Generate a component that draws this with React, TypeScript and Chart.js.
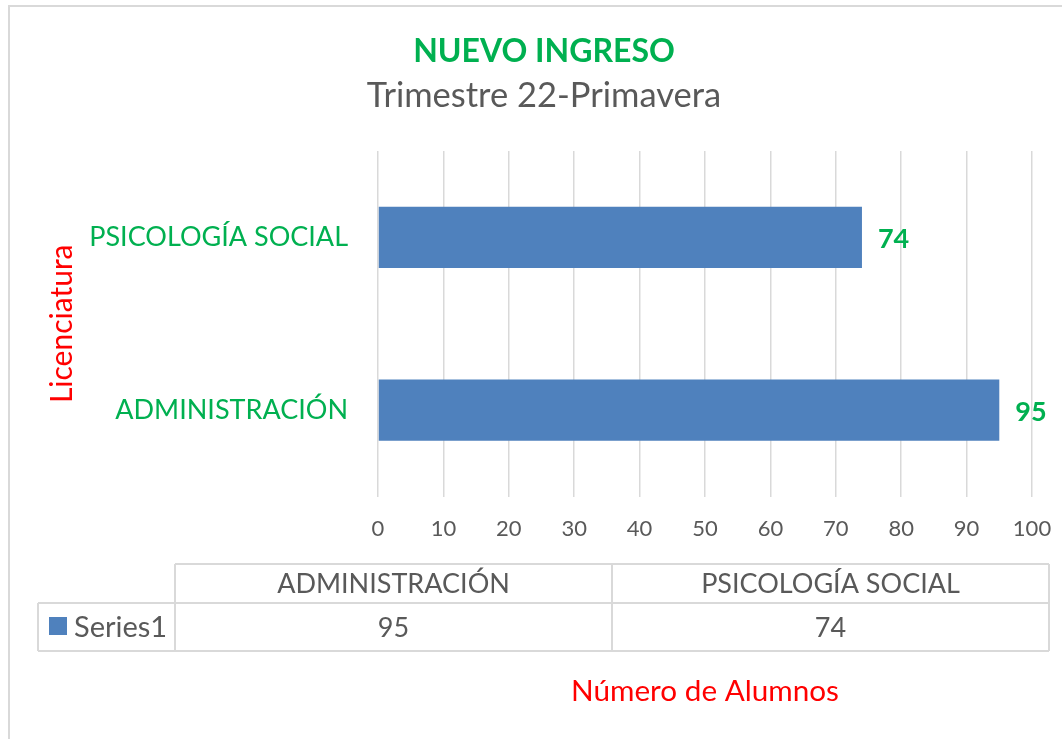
import { useEffect, useRef } from "react";
import { Chart, registerables } from "chart.js";

Chart.register(...registerables);

// ---- data ----
const categories = ["ADMINISTRACIÓN", "PSICOLOGÍA SOCIAL"];
const series1 = [95, 74];
const seriesName = "Series1";
const xMin = 0;
const xMax = 100;
const xStep = 10;
const chartTitle = "NUEVO INGRESO";
const chartSubtitle = "Trimestre 22-Primavera";
const xAxisTitle = "Número de Alumnos";
const yAxisTitle = "Licenciatura";

// ---- styles ----
const FONT = "Lato, 'Noto Sans', sans-serif";
const GREEN = "#00b050";
const GRAY = "#595959";
const RED = "#ff0000";
const BLUE = "#4f81bd";
const LINE = "#d9d9d9";

const W = 1062;
const H = 739;

// title geometry (the original chart frame is wider than the visible picture)
const TITLE_X = 544;
const TITLE_BASE = 62;
const SUBTITLE_BASE = 107;

// table geometry
const TBL = { left: 38, headLeft: 175, mid: 612, right: 1049, top: 564, split: 603, bottom: 651 };

const frame = {
  id: "frame",
  beforeDraw(chart: any) {
    const ctx = chart.ctx;
    ctx.save();
    ctx.fillStyle = "#ffffff";
    ctx.fillRect(0, 0, chart.width, chart.height);
    ctx.strokeStyle = LINE;
    ctx.lineWidth = 2;
    ctx.strokeRect(9, 6, chart.width + 20, chart.height + 20);
    // titles
    ctx.textAlign = "center";
    ctx.textBaseline = "alphabetic";
    ctx.fillStyle = GREEN;
    ctx.font = `bold 32px ${FONT}`;
    ctx.fillText(chartTitle, TITLE_X, TITLE_BASE);
    ctx.fillStyle = GRAY;
    ctx.font = `34.5px ${FONT}`;
    ctx.fillText(chartSubtitle, TITLE_X, SUBTITLE_BASE);
    ctx.restore();
  },
};

const valueLabels = {
  id: "valueLabels",
  afterDatasetsDraw(chart: any) {
    const ctx = chart.ctx;
    ctx.save();
    ctx.font = `bold 27px ${FONT}`;
    ctx.fillStyle = GREEN;
    ctx.textAlign = "left";
    ctx.textBaseline = "middle";
    const meta = chart.getDatasetMeta(0);
    meta.data.forEach((bar: any, i: number) => {
      ctx.fillText(String(series1[i]), bar.x + 16, bar.y + 2);
    });
    ctx.restore();
  },
};

const dataTable = {
  id: "dataTable",
  afterDraw(chart: any) {
    const ctx = chart.ctx;
    ctx.save();
    ctx.strokeStyle = LINE;
    ctx.lineWidth = 2;
    ctx.beginPath();
    ctx.moveTo(TBL.headLeft, TBL.top);
    ctx.lineTo(TBL.right, TBL.top);
    ctx.moveTo(TBL.left, TBL.split);
    ctx.lineTo(TBL.right, TBL.split);
    ctx.moveTo(TBL.left, TBL.bottom);
    ctx.lineTo(TBL.right, TBL.bottom);
    ctx.moveTo(TBL.headLeft, TBL.top);
    ctx.lineTo(TBL.headLeft, TBL.bottom);
    ctx.moveTo(TBL.mid, TBL.top);
    ctx.lineTo(TBL.mid, TBL.bottom);
    ctx.moveTo(TBL.right, TBL.top);
    ctx.lineTo(TBL.right, TBL.bottom);
    ctx.moveTo(TBL.left, TBL.split);
    ctx.lineTo(TBL.left, TBL.bottom);
    ctx.stroke();

    const cols = [
      (TBL.headLeft + TBL.mid) / 2,
      (TBL.mid + TBL.right) / 2,
    ];
    const headY = (TBL.top + TBL.split) / 2 + 1;
    const rowY = (TBL.split + TBL.bottom) / 2 + 1;
    ctx.fillStyle = GRAY;
    ctx.textAlign = "center";
    ctx.textBaseline = "middle";
    ctx.font = `27px ${FONT}`;
    categories.forEach((c, i) => ctx.fillText(c, cols[i], headY));
    series1.forEach((v, i) => ctx.fillText(String(v), cols[i], rowY));

    // legend key
    ctx.fillStyle = BLUE;
    ctx.fillRect(49, 617, 18, 18);
    ctx.fillStyle = GRAY;
    ctx.textAlign = "left";
    ctx.font = `29px ${FONT}`;
    ctx.fillText(seriesName, 74, rowY);

    // x axis title
    const ca = chart.chartArea;
    ctx.fillStyle = RED;
    ctx.textAlign = "center";
    ctx.font = `29.7px ${FONT}`;
    ctx.fillText(xAxisTitle, (ca.left + ca.right) / 2, 691);
    ctx.restore();
  },
};

export default function App() {
  const ref = useRef<HTMLCanvasElement | null>(null);

  useEffect(() => {
    document.body.style.margin = "0";
    const canvas = ref.current;
    if (!canvas) return;
    const chart = new Chart(canvas, {
      type: "bar",
      data: {
        labels: categories,
        datasets: [
          {
            label: seriesName,
            data: series1,
            backgroundColor: BLUE,
            borderWidth: 0,
            barPercentage: 0.355,
            categoryPercentage: 1,
          },
        ],
      },
      options: {
        indexAxis: "y",
        animation: false,
        responsive: true,
        maintainAspectRatio: false,
        layout: { padding: { top: 151, left: 40, right: 30, bottom: 178 } },
        plugins: {
          legend: { display: false },
          tooltip: { enabled: false },
          title: { display: false },
          subtitle: { display: false },
        },
        scales: {
          x: {
            min: xMin,
            max: xMax,
            ticks: {
              stepSize: xStep,
              color: GRAY,
              font: { family: FONT, size: 22 },
              padding: 19,
            },
            grid: { color: LINE, lineWidth: 1.5, drawTicks: false },
            border: { display: false },
            afterFit: (scale: any) => {
              scale.paddingRight = 0;
              scale.paddingLeft = 0;
            },
          },
          y: {
            reverse: true,
            ticks: {
              color: GREEN,
              font: { family: FONT, size: 27 },
              padding: 30,
            },
            grid: { display: false, drawTicks: false },
            border: { display: false },
            title: {
              display: true,
              text: yAxisTitle,
              color: RED,
              font: { family: FONT, size: 30 },
            },
            afterFit: (scale: any) => {
              scale.width = 338;
            },
          },
        },
      },
      plugins: [frame, valueLabels, dataTable],
    });
    return () => chart.destroy();
  }, []);

  return (
    <div style={{ position: "absolute", left: 0, top: 0, width: W, height: H }}>
      <canvas ref={ref} />
    </div>
  );
}
